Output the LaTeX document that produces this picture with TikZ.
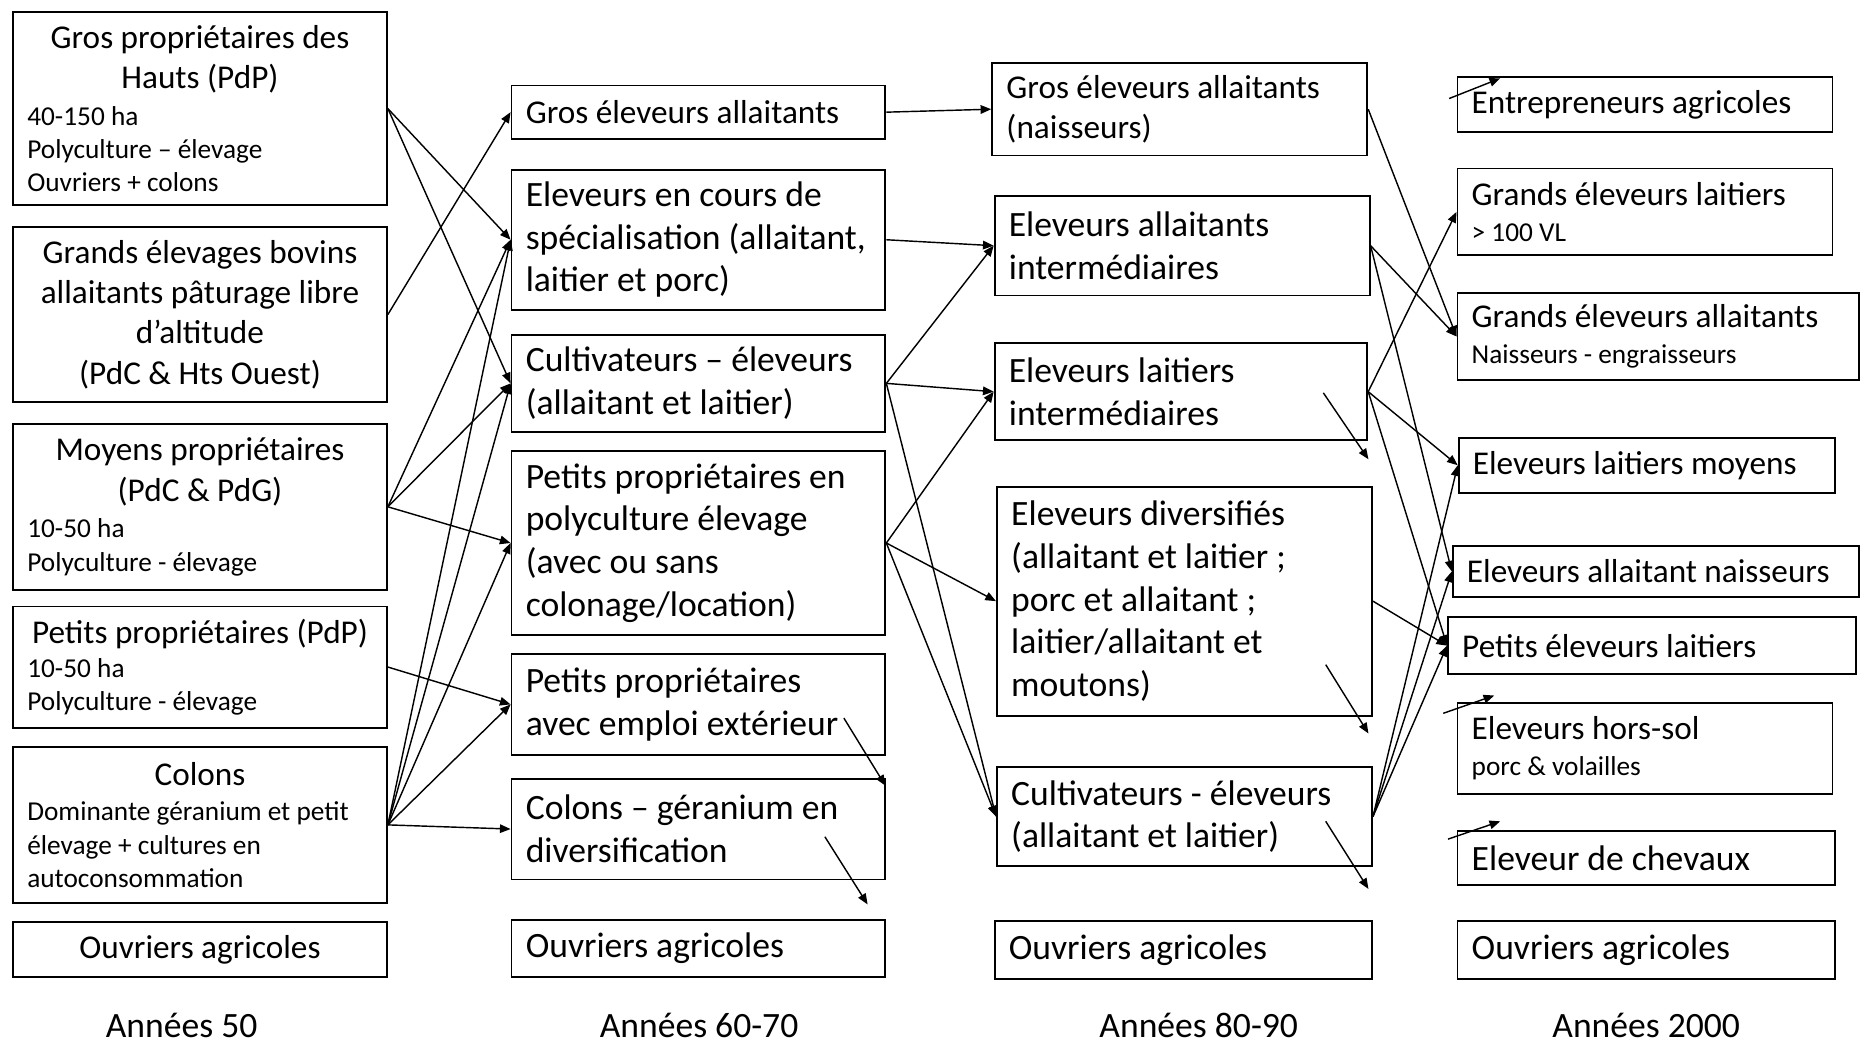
\documentclass[tikz,border=0pt]{standalone}
\usepackage{fontspec}
\setmainfont{Carlito}
\usetikzlibrary{arrows.meta}
\newcommand\fbig{\fontsize{14}{18}\selectfont}
\newcommand\flg{\fontsize{15}{18}\selectfont}
\newcommand\fcol{\fontsize{14}{17}\selectfont}
\newcommand\fsm{\fontsize{11.5}{14}\selectfont}
\newcommand\flab{\fontsize{15}{18}\selectfont}
\begin{document}
\begin{tikzpicture}[x=0.5pt,y=-0.5pt,
  bx/.style={draw=black, line width=0.8pt, inner xsep=6pt, inner ysep=1pt, align=flush left, font=\fbig, anchor=center},
  lbx/.style={bx, font=\flg},
  cbx/.style={bx, font=\fcol},
  arr/.style={-{Triangle[length=4.5pt,width=3.6pt]}, line width=0.6pt},
  lab/.style={font=\flab, anchor=base}]
\fill[white] (0,0) rectangle (1568,880);
\useasboundingbox (0,0) rectangle (1568,880);

% ---------- Column 1 : Annees 50
\node[cbx, minimum width=157.5pt, text width=145.5pt, minimum height=81.5pt] (A1) at (168.5,91.5)
  {{\centering Gros propriétaires des\\Hauts (PdP)\par}\vspace{1.5pt}{\fsm 40-150 ha\\Polyculture – élevage\\Ouvriers + colons\par}};
\node[cbx, align=flush center, minimum width=157.5pt, text width=145.5pt, minimum height=74pt] (A2) at (168.5,265)
  {Grands élevages bovins\\allaitants pâturage libre\\d’altitude\\(PdC \& Hts Ouest)};
\node[cbx, minimum width=157.5pt, text width=145.5pt, minimum height=70pt] (A3) at (168.5,427)
  {{\centering Moyens propriétaires\\(PdC \& PdG)\par}\vspace{1.5pt}{\fsm 10-50 ha\\Polyculture - élevage\par}};
\node[cbx, minimum width=157.5pt, text width=145.5pt, minimum height=51pt] (A4) at (168.5,562)
  {{\centering Petits propriétaires (PdP)\par}\vspace{0.5pt}{\fsm 10-50 ha\\Polyculture - élevage\par}};
\node[cbx, minimum width=157.5pt, text width=145.5pt, minimum height=66pt] (A5) at (168.5,695)
  {{\centering Colons\par}\vspace{1pt}{\fsm Dominante géranium et petit\\élevage + cultures en\\autoconsommation\par}};
\node[cbx, align=flush center, minimum width=157.5pt, text width=145.5pt, minimum height=23pt] (A6) at (168.5,800)
  {Ouvriers agricoles};

% ---------- Column 2 : Annees 60-70
\node[bx, minimum width=157.5pt, text width=145.5pt, minimum height=22.5pt] (B1) at (588.5,94.5)
  {Gros éleveurs allaitants};
\node[lbx, minimum width=157.5pt, text width=145.5pt, minimum height=59pt] (B2) at (588.5,202)
  {Eleveurs en cours de\\spécialisation (allaitant,\\laitier et porc)};
\node[lbx, minimum width=157.5pt, text width=145.5pt, minimum height=41pt] (B3) at (588.5,323)
  {Cultivateurs – éleveurs\\(allaitant et laitier)};
\node[lbx, minimum width=157.5pt, text width=145.5pt, minimum height=77.5pt] (B4) at (588.5,457.5)
  {Petits propriétaires en\\polyculture élevage\\(avec ou sans\\colonage/location)};
\node[lbx, minimum width=157.5pt, text width=145.5pt, minimum height=42.5pt] (B5) at (588.5,593.5)
  {Petits propriétaires\\avec emploi extérieur};
\node[lbx, minimum width=157.5pt, text width=145.5pt, minimum height=42.5pt] (B6) at (588.5,698.5)
  {Colons – géranium en\\diversification};
\node[lbx, minimum width=157.5pt, text width=145.5pt, minimum height=24pt] (B7) at (588.5,799)
  {Ouvriers agricoles};

% ---------- Column 3 : Annees 80-90
\node[bx, font=\fcol, minimum width=158pt, text width=146pt, minimum height=39pt] (C1) at (994,92)
  {Gros éleveurs allaitants\\(naisseurs)};
\node[lbx, minimum width=158pt, text width=146pt, minimum height=42pt] (C2) at (996,207)
  {Eleveurs allaitants\\intermédiaires};
\node[lbx, minimum width=157pt, text width=145pt, minimum height=41pt] (C3) at (995,330)
  {Eleveurs laitiers\\intermédiaires};
\node[lbx, minimum width=158pt, text width=146pt, minimum height=96.5pt] (C4) at (998,506.5)
  {Eleveurs diversifiés\\(allaitant et laitier ;\\porc et allaitant ;\\laitier/allaitant et\\moutons)};
\node[lbx, minimum width=158pt, text width=146pt, minimum height=42pt] (C5) at (998,688)
  {Cultivateurs - éleveurs\\(allaitant et laitier)};
\node[lbx, minimum width=159pt, text width=147pt, minimum height=24.5pt] (C6) at (997,800.5)
  {Ouvriers agricoles};

% ---------- Column 4 : Annees 2000
\node[bx, minimum width=158pt, text width=146pt, minimum height=23pt] (D1) at (1386,88)
  {Entrepreneurs agricoles};
\node[bx, minimum width=158pt, text width=146pt, minimum height=36.5pt] (D2) at (1386,178.5)
  {Grands éleveurs laitiers\par\vspace{1pt}{\fsm > 100 VL\par}};
\node[bx, minimum width=169pt, text width=157pt, minimum height=36.5pt] (D3) at (1397,283.5)
  {Grands éleveurs allaitants\par\vspace{1pt}{\fsm Naisseurs - engraisseurs\par}};
\node[bx, minimum width=158.5pt, text width=146.5pt, minimum height=23pt] (D4) at (1387.5,392)
  {Eleveurs laitiers moyens};
\node[bx, minimum width=171pt, text width=159pt, minimum height=21.5pt] (D5) at (1395,481.5)
  {Eleveurs allaitant naisseurs};
\node[bx, minimum width=172pt, text width=160pt, minimum height=24pt] (D6) at (1392,544)
  {Petits éleveurs laitiers};
\node[bx, minimum width=158pt, text width=146pt, minimum height=38.5pt] (D7) at (1386,630.5)
  {Eleveurs hors-sol\par\vspace{1pt}{\fsm porc \& volailles\par}};
\node[lbx, minimum width=159pt, text width=147pt, minimum height=23pt] (D8) at (1387,723)
  {Eleveur de chevaux};
\node[lbx, minimum width=159pt, text width=147pt, minimum height=24.5pt] (D9) at (1387,800.5)
  {Ouvriers agricoles};

% ---------- Period labels
\node[lab] (L1) at (153,874) {Années 50};
\node[lab] (L2) at (589,874) {Années 60-70};
\node[lab] (L3) at (1010,874) {Années 80-90};
\node[lab] (L4) at (1387,874) {Années 2000};

% ---------- Arrows 50 -> 60-70
\draw[arr] (A1.east) -- (B2.west);
\draw[arr] (A1.east) -- (B3.west);
\draw[arr] (A2.east) -- (B1.west);
\draw[arr] (A3.east) -- (B2.west);
\draw[arr] (A3.east) -- (B3.west);
\draw[arr] (A3.east) -- (B4.west);
\draw[arr] (A4.east) -- (B5.west);
\draw[arr] (A5.east) -- (B2.west);
\draw[arr] (A5.east) -- (B3.west);
\draw[arr] (A5.east) -- (B4.west);
\draw[arr] (A5.east) -- (B5.west);
\draw[arr] (A5.east) -- (B6.west);

% ---------- Arrows 60-70 -> 80-90
\draw[arr] (B1.east) -- (C1.west);
\draw[arr] (B2.east) -- (C2.west);
\draw[arr] (B3.east) -- (C2.west);
\draw[arr] (B3.east) -- (C3.west);
\draw[arr] (B3.east) -- (C5.west);
\draw[arr] (B4.east) -- (C3.west);
\draw[arr] (B4.east) -- (C4.west);
\draw[arr] (B4.east) -- (C5.west);

% ---------- Arrows 80-90 -> 2000
\draw[arr] (C1.east) -- (D3.west);
\draw[arr] (C2.east) -- (D3.west);
\draw[arr] (C2.east) -- (D5.west);
\draw[arr] (C3.east) -- (D2.west);
\draw[arr] (C3.east) -- (D4.west);
\draw[arr] (C3.east) -- (D6.west);
\draw[arr] (C4.east) -- (D6.west);
\draw[arr] (C5.east) -- (D4.west);
\draw[arr] (C5.east) -- (D5.west);
\draw[arr] (C5.east) -- (D6.west);

% ---------- Free-standing arrows
\coordinate (b5s) at (711,605);  \coordinate (b5e) at (746,662);
\coordinate (b6s) at (695,705);  \coordinate (b6e) at (731,762);
\coordinate (c3s) at (1115,331); \coordinate (c3e) at (1153,387);
\coordinate (c4s) at (1117,560); \coordinate (c4e) at (1153,618);
\coordinate (c5s) at (1117,692); \coordinate (c5e) at (1153,749);
\coordinate (d1s) at (1221,83);  \coordinate (d1e) at (1264,66);
\coordinate (d7s) at (1216,601); \coordinate (d7e) at (1259,586);
\coordinate (d8s) at (1220,707); \coordinate (d8e) at (1264,692);
\draw[arr] (b5s) -- (b5e);
\draw[arr] (b6s) -- (b6e);
\draw[arr] (c3s) -- (c3e);
\draw[arr] (c4s) -- (c4e);
\draw[arr] (c5s) -- (c5e);
\draw[arr] (d1s) -- (d1e);
\draw[arr] (d7s) -- (d7e);
\draw[arr] (d8s) -- (d8e);
\end{tikzpicture}
\end{document}
